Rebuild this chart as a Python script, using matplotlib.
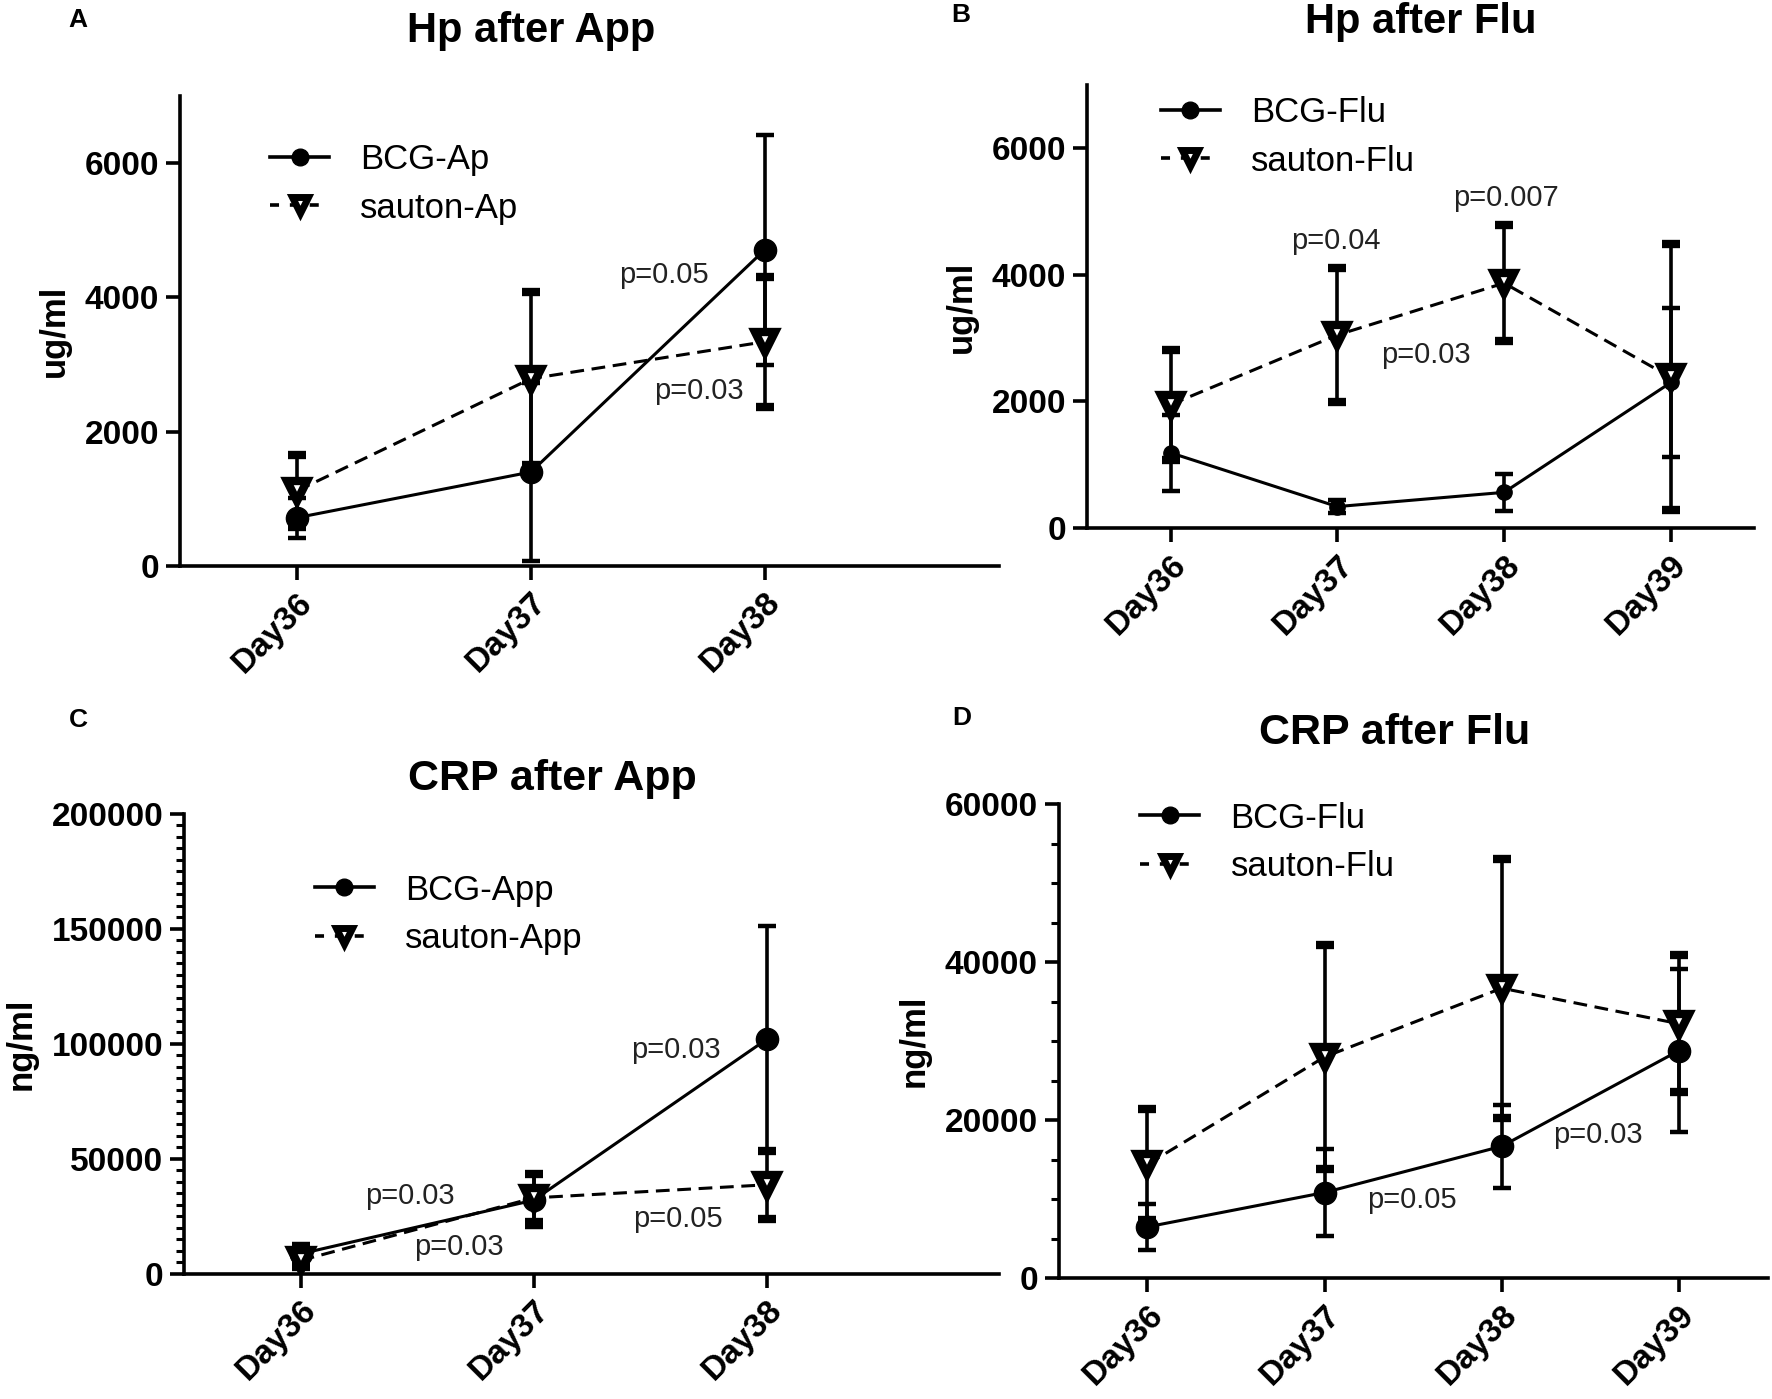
import numpy as np
import matplotlib
matplotlib.use('Agg')
import matplotlib.pyplot as plt
from matplotlib.lines import Line2D
from matplotlib.ticker import MultipleLocator

plt.rcParams['font.family'] = ['Liberation Sans', 'DejaVu Sans']

# ---- data ----
days3 = ["Day36", "Day37", "Day38"]
days4 = ["Day36", "Day37", "Day38", "Day39"]

# A: Hp after App (ug/ml)
hpA_bcg      = [720, 1400, 4710]
hpA_bcg_err  = [300, 1320, 1710]
hpA_sau      = [1120, 2790, 3340]
hpA_sau_err  = [540, 1290, 970]

# B: Hp after Flu (ug/ml)
hpB_bcg      = [1190, 340, 565, 2300]
hpB_bcg_err  = [600, 100, 290, 1180]
hpB_sau      = [1950, 3050, 3870, 2380]
hpB_sau_err  = [870, 1060, 920, 2100]

# C: CRP after App (ng/ml)
crpC_bcg     = [8700, 32000, 101900]
crpC_bcg_err = [4300, 11700, 49100]
crpC_sau     = [5800, 33000, 38700]
crpC_sau_err = [3000, 10500, 14800]

# D: CRP after Flu (ng/ml)
crpD_bcg     = [6500, 10850, 16700, 28800]
crpD_bcg_err = [2940, 5480, 5230, 10330]
crpD_sau     = [14400, 28000, 36700, 32200]
crpD_sau_err = [7070, 14200, 16400, 8650]

# p-value annotations: (text, x in day index, y in data units)
pA = [("p=0.05", 1.57, 4340), ("p=0.03", 1.72, 2600)]
pB = [("p=0.04", 0.99, 4540), ("p=0.007", 2.01, 5215), ("p=0.03", 1.53, 2740)]
pC = [("p=0.03", 0.47, 34000), ("p=0.03", 0.68, 11650),
      ("p=0.03", 1.61, 97100), ("p=0.05", 1.62, 23900)]
pD = [("p=0.05", 1.49, 9890), ("p=0.03", 2.54, 18080)]

LW_AX = 2.6
TICK_FS = 24
DASH = (4.5, 2.5)


def panel(ax, days, bcg, bcg_err, sau, sau_err, labels, ylim, ymajor, yminor,
          ylabel, pvals, leg_anchor, bcg_ms=16):
    x = np.arange(len(days))
    eb = dict(elinewidth=2.6, capsize=6.5, capthick=3.2, ecolor='black')
    ax.errorbar(x, bcg, yerr=bcg_err, fmt='o', ls='-', color='black',
                lw=2.2, ms=bcg_ms, zorder=3, **eb)
    h = ax.errorbar(x, sau, yerr=sau_err, fmt='v', ls='--', color='black',
                    lw=2.2, ms=14, mfc='white', mec='black', mew=6,
                    zorder=4, **eb)
    h[0].set_dashes(DASH)

    ax.set_xlim(-0.5, 3.0 if len(days) == 3 else 3.5)
    ax.set_ylim(*ylim)
    ax.set_xticks(x)
    ax.set_xticklabels(days, rotation=45, ha='right', rotation_mode='anchor',
                       fontsize=TICK_FS, fontweight='bold')
    ax.yaxis.set_major_locator(MultipleLocator(ymajor))
    if yminor:
        ax.yaxis.set_minor_locator(MultipleLocator(yminor))
    for lab in ax.get_yticklabels():
        lab.set_fontweight('bold')
        lab.set_fontsize(TICK_FS)
    ax.tick_params(axis='both', which='major', length=10, width=LW_AX, pad=5)
    ax.tick_params(axis='y', which='minor', length=6, width=2.2)
    for s in ('top', 'right'):
        ax.spines[s].set_visible(False)
    for s in ('left', 'bottom'):
        ax.spines[s].set_linewidth(LW_AX)
    ax.set_ylabel(ylabel, fontsize=25, fontweight='bold', labelpad=10)

    for txt, px, py in pvals:
        ax.text(px, py, txt, fontsize=21, ha='center', va='center', color='#222222')

    h1 = Line2D([], [], color='black', lw=2.6, marker='o', ms=12)
    h2 = Line2D([], [], color='black', lw=2.6, ls='--', dashes=(2.5, 3.0),
                marker='v', ms=12, mfc='white', mec='black', mew=5)
    ax.legend([h1, h2], labels, loc='upper left', bbox_to_anchor=leg_anchor,
              frameon=False, fontsize=25, handlelength=1.7, handletextpad=0.9,
              labelspacing=0.45, borderpad=0, borderaxespad=0)


fig = plt.figure(figsize=(17.72, 13.99), dpi=100)

axA = fig.add_axes([0.1016, 0.5954, 0.462, 0.336])
axB = fig.add_axes([0.6135, 0.6225, 0.3765, 0.3168])
axC = fig.add_axes([0.104, 0.0895, 0.460, 0.3288])
axD = fig.add_axes([0.5975, 0.0863, 0.400, 0.339])

panel(axA, days3, hpA_bcg, hpA_bcg_err, hpA_sau, hpA_sau_err,
      ["BCG-Ap", "sauton-Ap"], (0, 7000), 2000, None, "ug/ml", pA, (0.11, 0.90))
panel(axB, days4, hpB_bcg, hpB_bcg_err, hpB_sau, hpB_sau_err,
      ["BCG-Flu", "sauton-Flu"], (0, 7000), 2000, None, "ug/ml", pB, (0.11, 0.975),
      bcg_ms=11)
panel(axC, days3, crpC_bcg, crpC_bcg_err, crpC_sau, crpC_sau_err,
      ["BCG-App", "sauton-App"], (0, 200000), 50000, 5000, "ng/ml", pC, (0.16, 0.87))
panel(axD, days4, crpD_bcg, crpD_bcg_err, crpD_sau, crpD_sau_err,
      ["BCG-Flu", "sauton-Flu"], (0, 60000), 20000, 5000, "ng/ml", pD, (0.115, 1.005))

# titles and panel letters
fig.text(0.2995, 0.978, "Hp after App", fontsize=30, fontweight='bold', ha='center', va='center')
fig.text(0.802, 0.984, "Hp after Flu", fontsize=30, fontweight='bold', ha='center', va='center')
fig.text(0.312, 0.443, "CRP after App", fontsize=31, fontweight='bold', ha='center', va='center')
fig.text(0.787, 0.476, "CRP after Flu", fontsize=31, fontweight='bold', ha='center', va='center')
for letter, lx, ly in [("A", 0.044, 0.986), ("B", 0.542, 0.989),
                       ("C", 0.044, 0.4855), ("D", 0.543, 0.487)]:
    fig.text(lx, ly, letter, fontsize=19, fontweight='bold', ha='center', va='center')

fig.savefig("out.png", dpi=100)
